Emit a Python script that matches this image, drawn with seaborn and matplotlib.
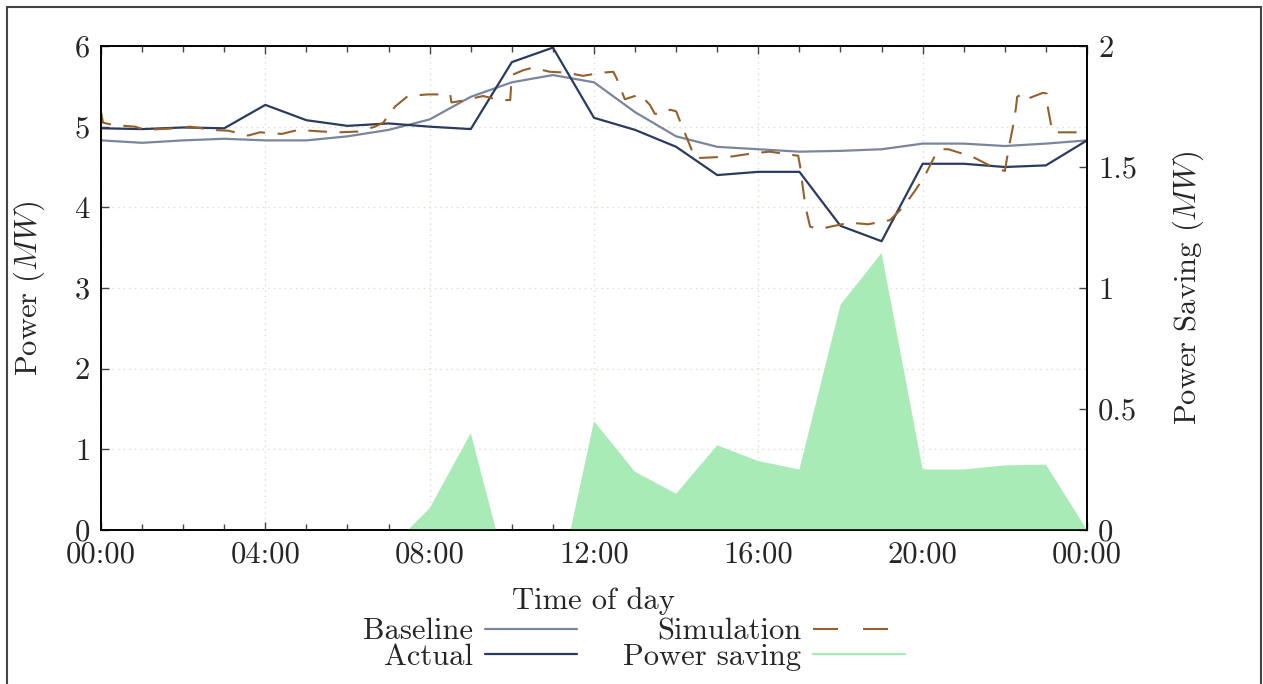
import numpy as np
import matplotlib
matplotlib.use("Agg")
import matplotlib.pyplot as plt
from matplotlib.lines import Line2D
import seaborn as sns

# --- data (hours of day, MW) ---
hours = list(range(25))
baseline = [4.83, 4.80, 4.83, 4.85, 4.83, 4.83, 4.88, 4.96, 5.09, 5.37, 5.55, 5.64, 5.55,
            5.18, 4.88, 4.75, 4.72, 4.69, 4.70, 4.72, 4.79, 4.79, 4.76, 4.79, 4.83]
actual = [4.98, 4.97, 4.99, 4.98, 5.27, 5.08, 5.01, 5.04, 5.00, 4.97, 5.80, 5.98, 5.11,
          4.96, 4.75, 4.40, 4.44, 4.44, 3.77, 3.58, 4.54, 4.54, 4.50, 4.52, 4.83]
# power saving (right axis), negative hours are not drawn
saving = [-0.15, -0.17, -0.16, -0.13, -0.44, -0.25, -0.13, -0.08, 0.09, 0.40, -0.25, -0.34, 0.45,
          0.24, 0.15, 0.35, 0.285, 0.25, 0.93, 1.145, 0.25, 0.25, 0.267, 0.27, 0.0]

sim_hours = [0, 0.05, 0.3, 0.83, 1.07, 1.8, 2.17, 2.7, 3.1, 3.42, 3.58, 3.87, 4.4, 4.8, 5.37,
             5.8, 6.26, 6.67, 6.87, 7.16, 7.47, 7.96, 8.5, 8.53, 8.78, 9.3, 9.7, 9.96, 10.0,
             10.28, 10.5, 10.93, 11.34, 11.73, 12.2, 12.47, 12.55, 12.75, 13.12, 13.36, 13.48,
             13.68, 13.85, 14.0, 14.1, 14.3, 14.46, 14.9, 15.35, 15.87, 16.28, 16.81, 16.97,
             17.02, 17.08, 17.15, 17.26, 17.5, 17.75, 18.23, 18.67, 19.2, 19.52, 19.82, 20.06,
             20.3, 20.43, 20.63, 20.75, 21.2, 21.7, 22.0, 22.1, 22.19, 22.27, 22.3, 22.37,
             22.47, 22.93, 23.02, 23.05, 23.14, 23.17, 23.51, 24.0]
sim_mw = [5.18, 5.05, 5.02, 5.00, 4.96, 4.98, 5.00, 4.96, 4.95, 4.91, 4.89, 4.93, 4.91, 4.96, 4.94,
          4.93, 4.94, 5.00, 5.05, 5.25, 5.38, 5.40, 5.40, 5.30, 5.32, 5.38, 5.33, 5.33, 5.64,
          5.70, 5.73, 5.68, 5.67, 5.63, 5.67, 5.68, 5.60, 5.34, 5.40, 5.27, 5.16,
          5.16, 5.21, 5.19, 5.06, 4.81, 4.61, 4.62, 4.63, 4.67, 4.69, 4.65, 4.64,
          4.50, 4.26, 4.00, 3.76, 3.73, 3.76, 3.81, 3.79, 3.84, 4.00, 4.21, 4.40,
          4.64, 4.72, 4.72, 4.70, 4.63, 4.50, 4.45, 4.75, 4.98, 5.23, 5.37, 5.39,
          5.33, 5.42, 5.41, 5.23, 4.98, 4.93, 4.93, 4.93]

xtick_pos = [0, 4, 8, 12, 16, 20, 24]
xtick_labels = ["00:00", "04:00", "08:00", "12:00", "16:00", "20:00", "00:00"]
right_ticks = [0, 0.5, 1, 1.5, 2]

c_base = "#7b859c"
c_act = "#2b3b5e"
c_sim = "#94602e"
c_save = "#a8ebb6"
grid_c = "#dcdccb"

sns.set_theme(style="white")
plt.rcParams["font.family"] = ["cmr10", "DejaVu Serif"]
plt.rcParams["mathtext.fontset"] = "cm"
plt.rcParams["axes.formatter.use_mathtext"] = True
plt.rcParams["font.size"] = 22

fig = plt.figure(figsize=(12.63, 6.84), dpi=100)
ax = fig.add_axes([101 / 1263, 1 - 530 / 684, (1087 - 101) / 1263, (530 - 46) / 684])
ax2 = ax.twinx()

sns.lineplot(x=hours, y=baseline, ax=ax, color=c_base, linewidth=1.6, errorbar=None)
sns.lineplot(x=hours, y=actual, ax=ax, color=c_act, linewidth=1.6, errorbar=None)
sim_line = sns.lineplot(x=sim_hours, y=sim_mw, ax=ax, color=c_sim, linewidth=1.5,
                        errorbar=None).lines[-1]
sim_line.set_dashes((9, 6))

sav = np.array(saving)
ax2.fill_between(hours, sav, 0, where=sav >= 0, interpolate=True, color=c_save,
                 linewidth=0)

# axes limits and ticks
ax.set_xlim(0, 24)
ax.set_ylim(0, 6)
ax2.set_ylim(0, 2)
ax.set_xticks(xtick_pos)
ax.set_xticklabels(xtick_labels)
ax.set_xticks(hours, minor=True)
ax.set_yticks(range(7))
ax2.set_yticks(right_ticks)
ax2.set_yticklabels([f"{v:g}" for v in right_ticks])

ax.tick_params(axis="both", which="major", direction="in", length=6, width=1,
               color="#444444", labelsize=22, pad=8)
ax.tick_params(axis="x", which="both", top=True, bottom=True)
ax.tick_params(axis="x", which="minor", direction="in", length=4, width=1, color="#444444")
ax.tick_params(axis="y", right=False)
ax2.tick_params(axis="y", direction="in", length=6, width=1, color="#444444",
                labelsize=22, pad=8)

ax.grid(True, which="major", linestyle=(0, (1, 3)), color=grid_c, linewidth=1)
ax.set_axisbelow(True)

for a in (ax, ax2):
    for s in a.spines.values():
        s.set_color("black")
        s.set_linewidth(1.2)

ax.set_xlabel("Time of day", fontsize=22, labelpad=13)
ax.set_ylabel(r"Power ($MW$)", fontsize=22, labelpad=19)
ax2.set_ylabel(r"Power Saving ($MW$)", fontsize=22, labelpad=24)

handles = [
    Line2D([], [], color=c_base, linewidth=1.6),
    Line2D([], [], color=c_act, linewidth=1.6),
    Line2D([], [], color=c_sim, linewidth=1.5, dashes=(12, 12)),
    Line2D([], [], color=c_save, linewidth=1.6),
]
labels = ["Baseline", "Actual", "Simulation", "Power saving"]
fig.legend(handles, labels, loc="center", bbox_to_anchor=(0.502, 0.058), ncol=2,
           markerfirst=False, frameon=False, fontsize=22, handlelength=3,
           handletextpad=0.4, columnspacing=1.5, labelspacing=-0.06, borderpad=0)

# outer frame (bottom edge falls outside the image)
fig.add_artist(plt.Rectangle((7 / 1263, -0.05), (1261 - 7) / 1263, 1.05 - 7 / 684,
                             transform=fig.transFigure, fill=False,
                             edgecolor="#444444", linewidth=1.5))

fig.savefig("out.png", dpi=100)
